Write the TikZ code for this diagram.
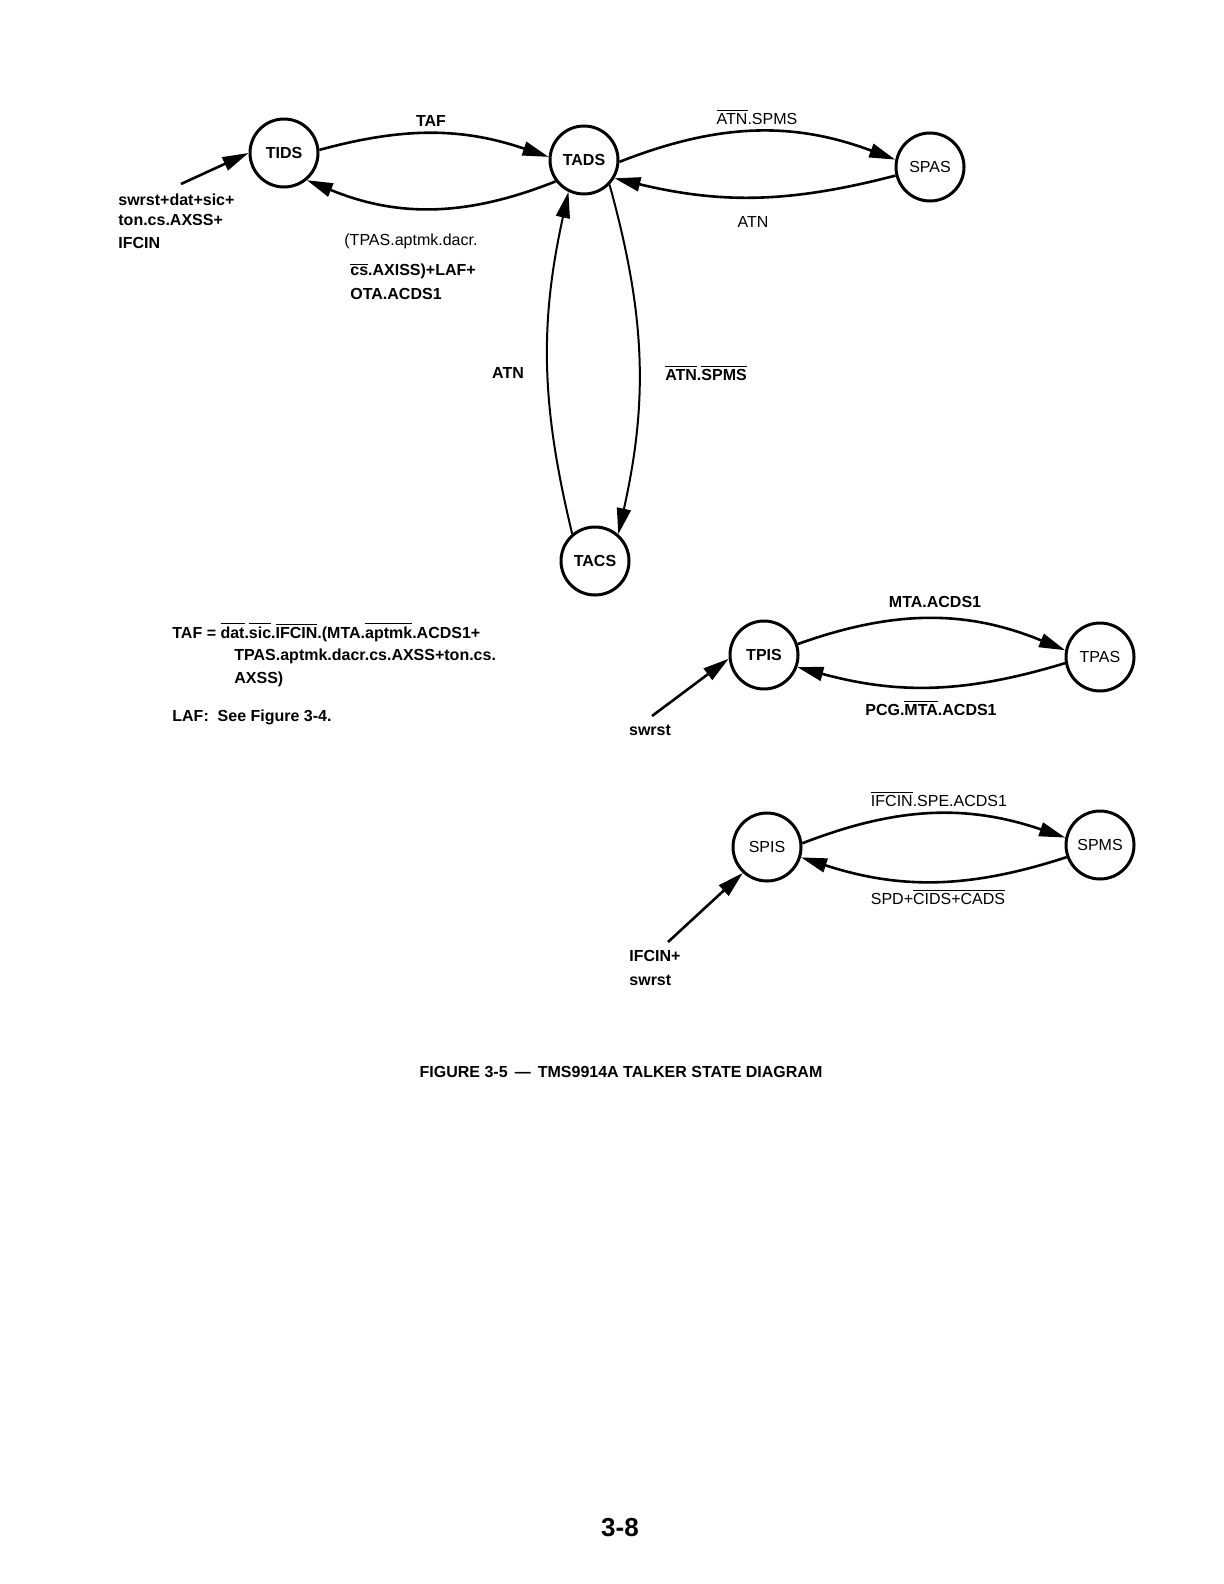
\documentclass[tikz,border=0pt]{standalone}
\usepackage{fontspec}
\setmainfont{Liberation Sans}
\usetikzlibrary{arrows.meta}
\newcommand\ovl[1]{$\overline{\hbox{#1}}$}
\begin{document}
\begin{tikzpicture}[x=0.5pt,y=0.5pt,
  state/.style={circle,draw,line width=1.5pt,minimum size=34pt,inner sep=0pt,font=\fontsize{8}{9.6}\selectfont\bfseries},
  statel/.style={state,font=\fontsize{8}{9.6}\selectfont},
  lbl/.style={inner sep=0pt,font=\fontsize{8}{9.6}\selectfont\bfseries},
  lblr/.style={inner sep=0pt,font=\fontsize{8}{9.6}\selectfont},
  edge/.style={line width=1.3pt,-{Triangle[length=13pt,width=7pt]}},
  vedge/.style={line width=1pt,-{Triangle[length=13pt,width=7pt]}}
]
\path[use as bounding box,fill=white] (0,0) rectangle (1224,-1584);

% states
\node[state]  (TIDS) at (284,-153) {TIDS};
\node[state]  (TADS) at (584,-160) {TADS};
\node[statel] (SPAS) at (930,-167) {SPAS};
\node[state]  (TACS) at (595,-561) {TACS};
\node[state]  (TPIS) at (764,-655) {TPIS};
\node[statel] (TPAS) at (1100,-657) {TPAS};
\node[statel] (SPIS) at (767,-847) {SPIS};
\node[statel] (SPMS) at (1100,-845) {SPMS};

% start points of the initial arrows
\coordinate (s1) at (181,-184);
\coordinate (s2) at (652,-716);
\coordinate (s3) at (668,-942);

% connectors
\draw[edge] (TIDS.5) to[bend left=17] (TADS.175);
\draw[edge] (TADS.217) to[bend left=22] (TIDS.310);
\draw[edge] (TADS.-3) to[bend left=21] (SPAS.168);
\draw[edge] (SPAS.194) to[bend left=14] (TADS.-31);
\draw[vedge] (TACS.130) to[bend left=13] (TADS.244);
\draw[vedge] (TADS.-44) to[bend left=14] (TACS.49);
\draw[edge] (TPIS.18) to[bend left=21] (TPAS.169);
\draw[edge] (TPAS.190) to[bend left=16] (TPIS.340);
\draw[edge] (SPIS.6) to[bend left=20] (SPMS.168);
\draw[edge] (SPMS.200) to[bend left=18] (SPIS.343);
\draw[edge] (s1) -- (TIDS.180);
\draw[edge] (s2) -- (TPIS.186);
\draw[edge] (s3) -- (SPIS.227);

% edge labels
\node[lbl] (lTAF) at (431,-121) {TAF};
\node[lblr] (lATNSPMS) at (757,-117) {\ovl{ATN}.SPMS};
\node[lblr] (lATN) at (753,-222) {ATN};
\node[lblr,anchor=west] (lb1) at (344,-241) {(TPAS.aptmk.dacr.};
\node[lbl,anchor=west] (lb2) at (350,-271) {\ovl{cs}.AXISS)+LAF+};
\node[lbl,anchor=west] (lb3) at (350,-294) {OTA.ACDS1};
\node[lbl,anchor=west] (in1) at (118,-200) {swrst+dat+sic+};
\node[lbl,anchor=west] (in2) at (118,-220) {ton.cs.AXSS+};
\node[lbl,anchor=west] (in3) at (118,-243) {IFCIN};
\node[lbl] (lATNv) at (508,-373) {ATN};
\node[lbl] (lATNSPMSv) at (706,-373) {\ovl{ATN}.\ovl{SPMS}};

% definitions
\node[lbl,anchor=west] (d1) at (172,-632) {TAF = \ovl{dat}.\ovl{sic}.\ovl{IFCIN}.(MTA.\ovl{aptmk}.ACDS1+};
\node[lbl,anchor=west] (d2) at (234,-656) {TPAS.aptmk.dacr.cs.AXSS+ton.cs.};
\node[lbl,anchor=west] (d3) at (234,-679) {AXSS)};
\node[lbl,anchor=west] (d4) at (172,-717) {LAF:\ \ See Figure 3-4.};

% parallel poll / serial poll labels
\node[lbl] (lMTA) at (935,-602) {MTA.ACDS1};
\node[lbl] (lPCG) at (931,-708) {PCG.\ovl{MTA}.ACDS1};
\node[lbl] (lsw) at (650,-730) {swrst};
\node[lblr] (lIFC) at (939,-799) {\ovl{IFCIN}.SPE.ACDS1};
\node[lblr] (lSPD) at (938,-897) {SPD+\ovl{CIDS+CADS}};
\node[lbl,anchor=west] (in4) at (629,-956) {IFCIN+};
\node[lbl,anchor=west] (in5) at (629,-980) {swrst};

% caption and page number
\node[lbl] (cap) at (621,-1072) {FIGURE 3-5 \,—\, TMS9914A TALKER STATE DIAGRAM};
\node[inner sep=0pt,font=\fontsize{13}{15}\selectfont\bfseries] (pg) at (620,-1528) {3-8};
\end{tikzpicture}
\end{document}
